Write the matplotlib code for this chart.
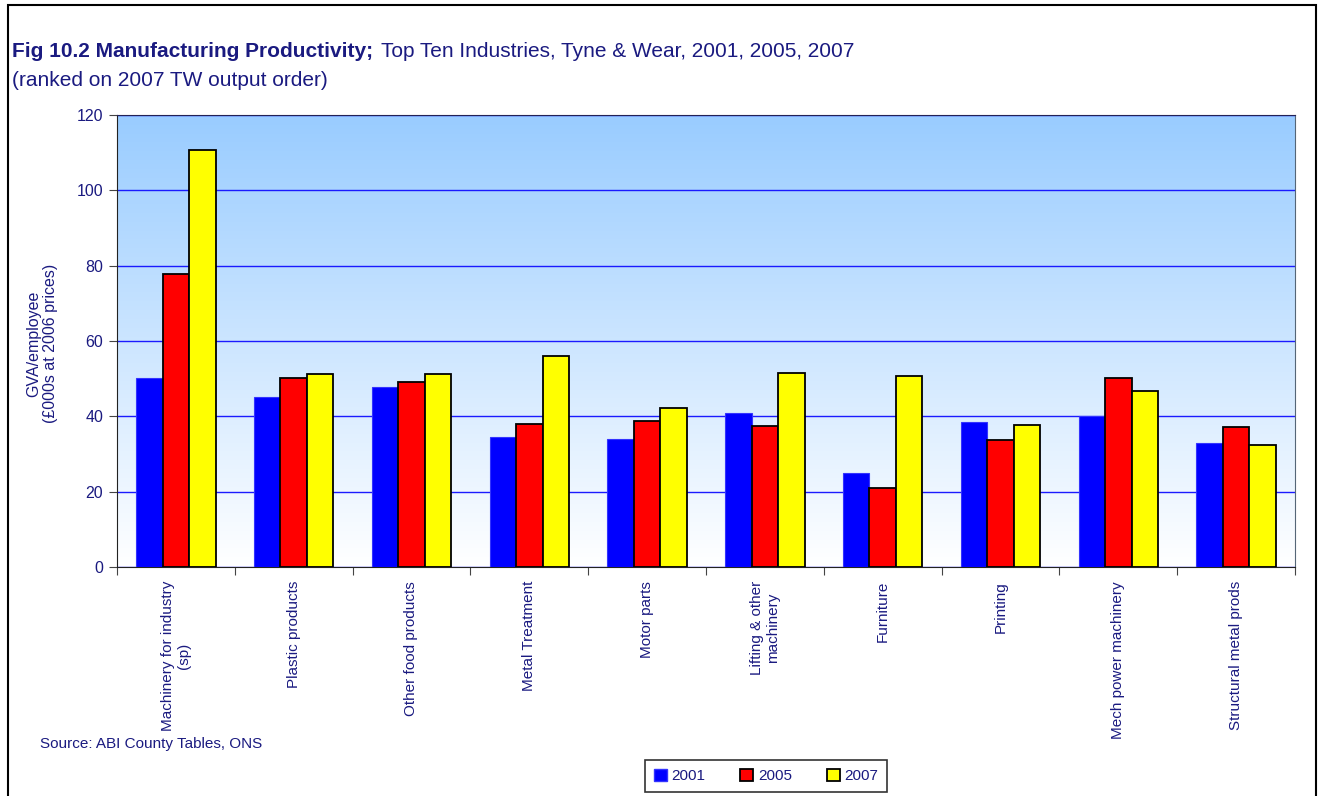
import numpy as np
import matplotlib as mpl
import matplotlib.pyplot as plt
from matplotlib.patches import Rectangle, Patch

mpl.rcParams["font.family"] = ["Liberation Sans Narrow", "Liberation Sans", "DejaVu Sans"]

NAVY = "#1a1a80"

industries = [
    "Machinery for industry\n(sp)",
    "Plastic products",
    "Other food products",
    "Metal Treatment",
    "Motor parts",
    "Lifting & other\nmachinery",
    "Furniture",
    "Printing",
    "Mech power machinery",
    "Structural metal prods",
]
gva_2001 = [50.1, 45.1, 47.7, 34.5, 34.0, 41.0, 25.0, 38.5, 40.0, 32.9]
gva_2005 = [77.7, 50.2, 49.1, 38.0, 38.8, 37.5, 21.0, 33.7, 50.3, 37.3]
gva_2007 = [110.6, 51.2, 51.3, 56.0, 42.2, 51.5, 50.7, 37.7, 46.7, 32.4]
years = ["2001", "2005", "2007"]

fig = plt.figure(figsize=(13.19, 7.96), dpi=100)
ax = fig.add_axes([0.0887, 0.2877, 0.8931, 0.5678])

# outer chart frame
fig.add_artist(Rectangle((8 / 1319, -0.01), (1316 - 8) / 1319, 1 - 5 / 796 + 0.01,
                         transform=fig.transFigure, fill=False, edgecolor="black", lw=1.5))

# blue-to-white gradient backdrop
grad = np.linspace(0, 1, 256).reshape(-1, 1)
cmap = mpl.colors.LinearSegmentedColormap.from_list("sky", ["#ffffff", "#99ccff"])
ax.imshow(grad, extent=[0, 1, 0, 1], transform=ax.transAxes, aspect="auto",
          cmap=cmap, origin="lower", zorder=0)

x = np.arange(len(industries))
w = 0.225
ax.bar(x - w, gva_2001, w, color="#0000ff", edgecolor="#3333ff", lw=0.8, zorder=3)
ax.bar(x, gva_2005, w, color="#ff0000", edgecolor="black", lw=1.3, zorder=3)
ax.bar(x + w, gva_2007, w, color="#ffff00", edgecolor="black", lw=1.3, zorder=3)

ax.set_xlim(-0.5, len(industries) - 0.5)
ax.set_ylim(0, 120)
ax.set_yticks(range(0, 121, 20))
ax.yaxis.grid(True, color="#1a1aff", lw=1)
ax.set_axisbelow(True)
for s in ax.spines.values():
    s.set_color("#222222")
ax.spines["top"].set_color("#222255")
ax.spines["right"].set_color("#556677")

ax.set_xticks(np.arange(-0.5, len(industries)), labels=[])
ax.set_xticks(x, labels=industries, minor=True)
ax.tick_params(axis="x", which="minor", length=0, rotation=90, pad=10,
               labelsize=11, labelcolor=NAVY)
ax.tick_params(axis="x", which="major", length=6, color="#444444")
ax.tick_params(axis="y", length=6, color="#444444", labelsize=11.5, labelcolor=NAVY, pad=4)
for lbl in ax.get_xticklabels(minor=True):
    lbl.set_multialignment("center")
    lbl.set_va("top")

fig.text(0.032, 0.568, "GVA/employee\n(£000s at 2006 prices)", rotation=90,
         ha="center", va="center", ma="center", fontsize=11.5, color=NAVY)

t1 = fig.text(12 / 1319, 1 - 57 / 796, "Fig 10.2 Manufacturing Productivity;",
              fontsize=15, fontweight="bold", color=NAVY, va="baseline")
fig.canvas.draw()
bb = t1.get_window_extent()
fig.text(bb.x1 / fig.bbox.width + 8 / 1319, 1 - 57 / 796,
         "Top Ten Industries, Tyne & Wear, 2001, 2005, 2007",
         fontsize=15, color=NAVY, va="baseline")
fig.text(12 / 1319, 1 - 86 / 796, "(ranked on 2007 TW output order)",
         fontsize=15, color=NAVY, va="baseline")

fig.text(40 / 1319, 1 - 748 / 796, "Source: ABI County Tables, ONS",
         fontsize=11, color=NAVY, va="baseline")

handles = [Patch(facecolor="#0000ff", edgecolor="#3333ff"),
           Patch(facecolor="#ff0000", edgecolor="black", lw=1.3),
           Patch(facecolor="#ffff00", edgecolor="black", lw=1.3)]
leg = fig.legend(handles, years, ncol=3, loc="center", bbox_to_anchor=(766 / 1319, 1 - 776 / 796),
                 frameon=True, fancybox=False, edgecolor="black", fontsize=11,
                 handlelength=0.85, handleheight=0.85, columnspacing=2.3, handletextpad=0.3,
                 borderpad=0.55, borderaxespad=0, labelcolor=NAVY)
leg.get_frame().set_linewidth(1.2)

fig.savefig("out.png", dpi=100)
